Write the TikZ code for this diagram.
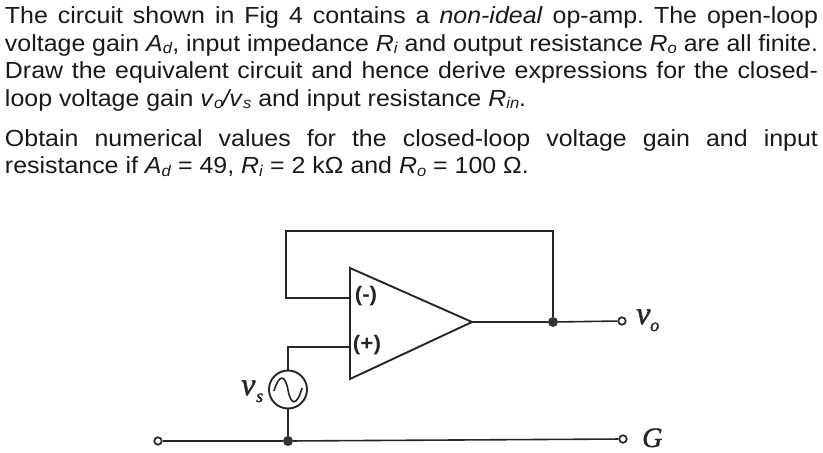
\documentclass[tikz,border=0pt]{standalone}
\usepackage{fontspec}
\setmainfont[FakeStretch=1.07]{Liberation Sans}
\newfontfamily\serifit[FakeBold=1.5]{Liberation Serif}
\newcommand{\sbx}[1]{\raisebox{-2.5pt}{\fontsize{15.5}{15.5}\selectfont\textit{#1}}}
\frenchspacing
\tikzset{
  txt/.style={anchor=base west,inner sep=0pt,outer sep=0pt,font=\fontsize{23.3}{26}\selectfont,text=black!90},
  wire/.style={draw=black!85,line width=1.9pt,line join=miter},
  thin wire/.style={draw=black!85,line width=1.6pt},
  dotn/.style={circle,fill=black!80,inner sep=0pt,minimum size=10pt},
  term/.style={circle,draw=black!85,fill=white,line width=1.7pt,inner sep=0pt,minimum size=7.5pt},
  pin/.style={inner sep=0pt,font=\fontsize{21}{21}\selectfont\bfseries,text=black!85},
  lab/.style={inner sep=0pt,anchor=base west,text=black!85},
  src/.style={circle,draw=black!85,line width=1.9pt,inner sep=0pt,minimum size=38pt}
}
\begin{document}
\begin{tikzpicture}[x=1pt,y=-1pt]
\useasboundingbox (0,0) rectangle (823,453);
\node[txt] (l1) at (5,23) {\makebox[813pt][s]{The circuit shown in Fig 4 contains a \textit{non-ideal} op-amp. The open-loop}};
\node[txt] (l2) at (5,51) {\makebox[813pt][s]{voltage gain \textit{A}\sbx{d}, input impedance \textit{R}\sbx{i} and output resistance \textit{R}\sbx{o} are all finite.}};
\node[txt] (l3) at (5,78.5) {\makebox[813pt][s]{Draw the equivalent circuit and hence derive expressions for the closed-}};
\node[txt] (l4) at (5,106) {loop voltage gain \textit{v}\sbx{o}\kern-1pt\textit{/}\kern-2pt\textit{v}\sbx{s} and input resistance \textit{R}\sbx{in}.};
\node[txt] (l5) at (5,146) {\makebox[813pt][s]{Obtain numerical values for the closed-loop voltage gain and input}};
\node[txt] (l6) at (5,173.5) {resistance if \textit{A}\sbx{d} = 49, \textit{R}\sbx{i} = 2 kΩ and \textit{R}\sbx{o} = 100 Ω.};

\coordinate (ta) at (350,268);
\coordinate (tb) at (350,379);
\coordinate (tip) at (472,322);
\coordinate (inm) at (350,298);
\coordinate (inp) at (350,347);
\coordinate (fbl) at (286,231);
\coordinate (fbr) at (553,231);
\node[dotn] (jo) at (553,322) {};
\node[dotn] (jg) at (288,441) {};
\node[term] (tvo) at (622,321) {};
\node[term] (tgr) at (623,439) {};
\node[term] (tgl) at (158,441) {};
\node[src] (vs) at (288,389.5) {};

\draw[wire] (ta) -- (tip) -- (tb) -- cycle;
\draw[wire] (inm) -| (fbl) -- (fbr) -- (jo);
\draw[wire] (tip) -- (jo);
\draw[thin wire] (jo) -- (tvo);
\draw[wire] (inp) -| (vs.north);
\draw[wire] (vs.south) -- (jg);
\draw[thin wire] (tgl) -- (jg);
\draw[thin wire] (jg) -- (tgr);
\draw[draw=black!85,line width=1.6pt] (274,391) .. controls (279,374) and (285,374) .. (288,390) .. controls (291,406) and (297,406) .. (302,388);

\node[pin] (pm) at (366,296) {(-)};
\node[pin] (pp) at (367,345) {(+)};
\node[lab,font=\serifit\itshape\fontsize{32}{32}\selectfont] (vsv) at (241,395) {v};
\node[lab,font=\serifit\itshape\fontsize{18}{18}\selectfont] (vss) at (256,402) {s};
\node[lab,font=\serifit\itshape\fontsize{32}{32}\selectfont] (vov) at (636,324) {v};
\node[lab,font=\serifit\itshape\fontsize{18}{18}\selectfont] (vos) at (650,331) {o};
\node[lab,font=\serifit\itshape\fontsize{28}{28}\selectfont] (g) at (642,447) {G};
\end{tikzpicture}
\end{document}
